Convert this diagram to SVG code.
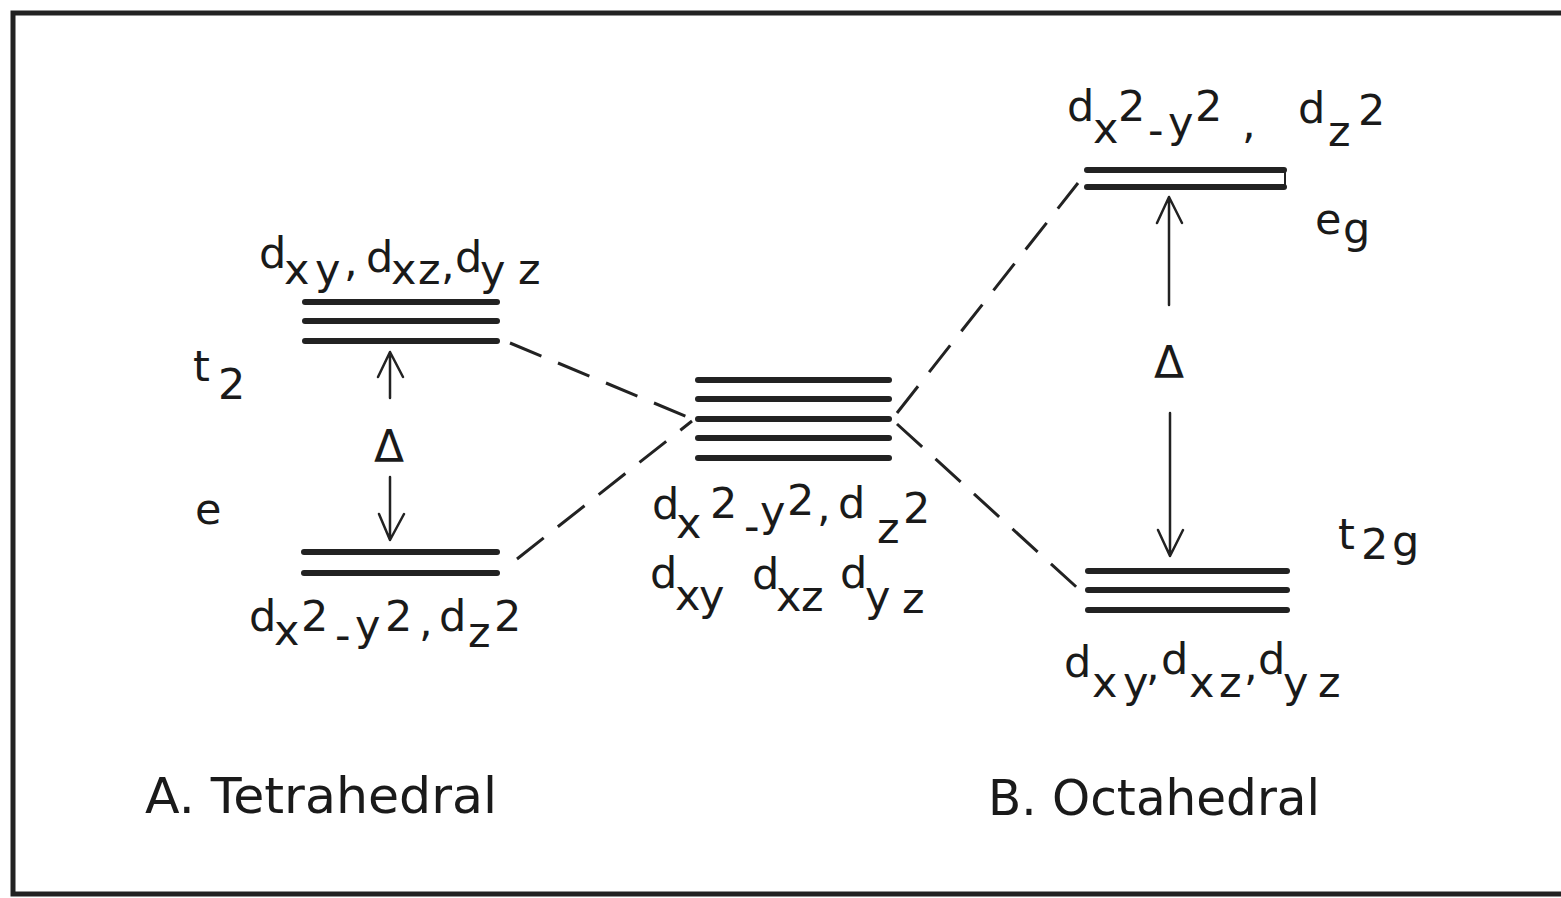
<svg xmlns="http://www.w3.org/2000/svg" width="1561" height="898" viewBox="0 0 1561 898">
<defs>
<style>
.f{font-family:"DejaVu Sans","Liberation Sans",sans-serif;font-size:43px;fill:#1a1a1a}
.cap{font-family:"DejaVu Sans","Liberation Sans",sans-serif;font-size:50px;fill:#1a1a1a}
.dl{font-family:"DejaVu Sans","Liberation Sans",sans-serif;font-size:44px;fill:#1a1a1a;text-anchor:middle}
.lvl{stroke:#222;stroke-width:6;stroke-linecap:round;fill:none}
.dash{stroke:#222;stroke-width:3;stroke-dasharray:34 18;fill:none}
.arr{stroke:#222;stroke-width:2.5;fill:none;stroke-linecap:round;stroke-linejoin:round}
</style>
</defs>
<rect width="1561" height="898" fill="#fff"/>
<path d="M1561,13 H13 V894 H1561" fill="none" stroke="#222" stroke-width="5"/>

<g id="connectors">
<line class="dash" x1="510" y1="343" x2="690" y2="418"/>
<line class="dash" x1="517" y1="559" x2="692" y2="421"/>
<line class="dash" x1="897" y1="413" x2="1078" y2="183"/>
<line class="dash" x1="897" y1="424" x2="1083" y2="593"/>
<path class="arr" d="M390,398 V352 M378,377 L390,352 L403,377"/>
<path class="arr" d="M390,477 V540 M379,514 L390,540 L404,514"/>
<path class="arr" d="M1169,305 V197 M1157,223 L1169,197 L1182,223"/>
<path class="arr" d="M1170,413 V556 M1158,530 L1170,556 L1183,530"/>
</g>

<g id="tetra-t2">
<line class="lvl" x1="305" y1="302" x2="497" y2="302"/>
<line class="lvl" x1="305" y1="321" x2="497" y2="321"/>
<line class="lvl" x1="305" y1="341" x2="497" y2="341"/>
<text class="f"><tspan x="259" y="268">d</tspan><tspan x="284" y="284">x</tspan><tspan x="315" y="284">y</tspan><tspan x="344" y="276">,</tspan><tspan x="366" y="272">d</tspan><tspan x="391" y="284">x</tspan><tspan x="418" y="284">z</tspan><tspan x="441" y="279">,</tspan><tspan x="455" y="272">d</tspan><tspan x="480" y="285">y</tspan><tspan x="518" y="284">z</tspan></text>
<text class="f"><tspan x="193" y="381">t</tspan><tspan x="218" y="399">2</tspan></text>
</g>

<g id="tetra-e">
<line class="lvl" x1="304" y1="552" x2="497" y2="552"/>
<line class="lvl" x1="304" y1="573" x2="497" y2="573"/>
<text class="f"><tspan x="249" y="631">d</tspan><tspan x="274" y="645">x</tspan><tspan x="301" y="631">2</tspan><tspan x="335" y="650">-</tspan><tspan x="355" y="640">y</tspan><tspan x="385" y="631">2</tspan><tspan x="419" y="636">,</tspan><tspan x="439" y="631">d</tspan><tspan x="468" y="647">z</tspan><tspan x="494" y="631">2</tspan></text>
<text class="f" x="195" y="524">e</text>
</g>

<g id="tetra-delta">
<text class="dl" x="389" y="462">Δ</text>
</g>

<g id="free-ion">
<line class="lvl" x1="698" y1="380" x2="889" y2="380"/>
<line class="lvl" x1="698" y1="399" x2="889" y2="399"/>
<line class="lvl" x1="698" y1="419" x2="889" y2="419"/>
<line class="lvl" x1="698" y1="438" x2="889" y2="438"/>
<line class="lvl" x1="698" y1="458" x2="889" y2="458"/>
<text class="f"><tspan x="652" y="519">d</tspan><tspan x="676" y="538">x</tspan><tspan x="710" y="518">2</tspan><tspan x="744" y="541">-</tspan><tspan x="760" y="526">y</tspan><tspan x="787" y="515">2</tspan><tspan x="817" y="521">,</tspan><tspan x="838" y="518">d</tspan><tspan x="877" y="543">z</tspan><tspan x="903" y="523">2</tspan></text>
<text class="f"><tspan x="650" y="588">d</tspan><tspan x="675" y="610">x</tspan><tspan x="699" y="610">y</tspan><tspan x="752" y="589">d</tspan><tspan x="776" y="611">x</tspan><tspan x="801" y="611">z</tspan><tspan x="840" y="588">d</tspan><tspan x="865" y="611">y</tspan><tspan x="902" y="613">z</tspan></text>
</g>

<g id="octa-eg">
<line class="lvl" x1="1087" y1="170" x2="1284" y2="170"/>
<line class="lvl" x1="1087" y1="187" x2="1284" y2="187"/>
<line x1="1285" y1="170" x2="1285" y2="187" stroke="#222" stroke-width="2"/>
<text class="f"><tspan x="1067" y="121">d</tspan><tspan x="1093" y="143">x</tspan><tspan x="1118" y="121">2</tspan><tspan x="1148" y="145">-</tspan><tspan x="1168" y="137">y</tspan><tspan x="1195" y="121">2</tspan><tspan x="1242" y="138">,</tspan><tspan x="1298" y="123">d</tspan><tspan x="1328" y="146">z</tspan><tspan x="1358" y="125">2</tspan></text>
<text class="f"><tspan x="1315" y="234">e</tspan><tspan x="1343" y="243">g</tspan></text>
</g>

<g id="octa-delta">
<text class="dl" x="1169" y="378">Δ</text>
</g>

<g id="octa-t2g">
<line class="lvl" x1="1088" y1="571" x2="1287" y2="571"/>
<line class="lvl" x1="1088" y1="590" x2="1287" y2="590"/>
<line class="lvl" x1="1088" y1="610" x2="1287" y2="610"/>
<text class="f"><tspan x="1064" y="677">d</tspan><tspan x="1092" y="697">x</tspan><tspan x="1123" y="697">y</tspan><tspan x="1146" y="680">,</tspan><tspan x="1161" y="674">d</tspan><tspan x="1189" y="697">x</tspan><tspan x="1219" y="697">z</tspan><tspan x="1244" y="680">,</tspan><tspan x="1258" y="674">d</tspan><tspan x="1283" y="697">y</tspan><tspan x="1318" y="697">z</tspan></text>
<text class="f"><tspan x="1338" y="549">t</tspan><tspan x="1361" y="559">2</tspan><tspan x="1392" y="556">g</tspan></text>
</g>

<g id="captions">
<text class="cap" x="145" y="813" textLength="352" lengthAdjust="spacingAndGlyphs">A. Tetrahedral</text>
<text class="cap" x="988" y="815" textLength="332" lengthAdjust="spacingAndGlyphs">B. Octahedral</text>
</g>
</svg>
